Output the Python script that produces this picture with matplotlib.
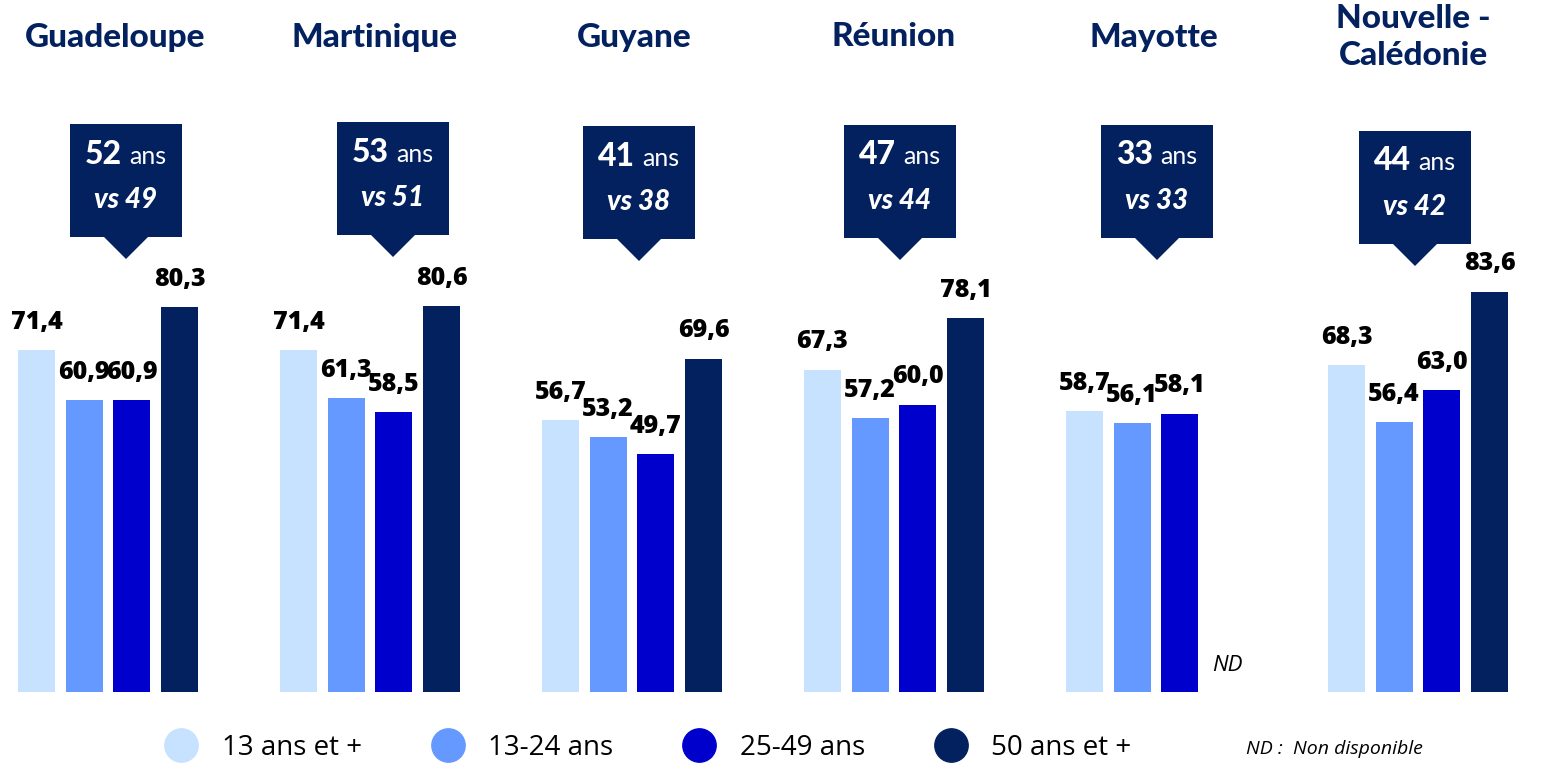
import matplotlib.pyplot as plt
from matplotlib.patches import Polygon
from matplotlib.lines import Line2D

# donnees
territoires = ["Guadeloupe", "Martinique", "Guyane", "Réunion", "Mayotte", "Nouvelle -\nCalédonie"]
tranches = ["13 ans et +", "13-24 ans", "25-49 ans", "50 ans et +"]
v_13plus = [71.4, 71.4, 56.7, 67.3, 58.7, 68.3]
v_13_24 = [60.9, 61.3, 53.2, 57.2, 56.1, 56.4]
v_25_49 = [60.9, 58.5, 49.7, 60.0, 58.1, 63.0]
v_50plus = [80.3, 80.6, 69.6, 78.1, None, 83.6]
age_moyen = [52, 53, 41, 47, 33, 44]
age_vs = [49, 51, 38, 44, 33, 42]

couleurs = ["#C6E2FF", "#6699FF", "#0000CC", "#03215F"]
navy = "#03215F"

plt.rcParams['font.family'] = ['Open Sans', 'DejaVu Sans']

fig = plt.figure(figsize=(15.5, 7.71), dpi=100)
# axe des barres : base a y=692px, 4.79 px par point
ax = fig.add_axes([0, 79 / 771, 1, 692 / 771])
ax.set_xlim(-108 / 262, (1550 - 108) / 262)
ax.set_ylim(0, 692 / 4.79)
ax.axis("off")

pas = 47.7 / 262
larg = 37 / 262
series = [v_13plus, v_13_24, v_25_49, v_50plus]
for k, vals in enumerate(series):
    for g, v in enumerate(vals):
        x = g + (k - 1.5) * pas
        if v is None:
            ax.text(x, 5.6, "ND", ha="center", va="center", fontsize=16, style="italic", color="black")
            continue
        ax.bar(x, v, width=larg, color=couleurs[k])
        ax.annotate(f"{v:.1f}".replace(".", ","), (x, v), xytext=(0, 11), textcoords="offset points",
                    ha="center", va="bottom", fontsize=18, fontweight="heavy", color="black")

# calque en pixels pour titres, bulles et legende
ov = fig.add_axes([0, 0, 1, 1])
ov.set_xlim(0, 1550)
ov.set_ylim(771, 0)
ov.axis("off")

centres_titre = [115, 375, 634, 894, 1154, 1413]
for cx, nom in zip(centres_titre, territoires):
    ov.text(cx, 37, nom, ha="center", va="center", fontsize=24, fontweight="black",
            color=navy, family="Lato", linespacing=1.3)

centres_bulle = [126, 393, 639, 900, 1157, 1415]
hauts_bulle = [124, 122, 126, 125, 125, 131]
for cx, top, a, b in zip(centres_bulle, hauts_bulle, age_moyen, age_vs):
    w, h = 112, 113
    ov.add_patch(Polygon([(cx - w / 2, top), (cx + w / 2, top), (cx + w / 2, top + h),
                          (cx + 22, top + h), (cx, top + h + 22), (cx - 22, top + h),
                          (cx - w / 2, top + h)], closed=True, color=navy, lw=0))
    ov.text(cx - 4, top + 30, str(a), ha="right", va="center", fontsize=23,
            fontweight="black", color="white", family="Lato")
    ov.text(cx + 3, top + 32, "ans", ha="left", va="center", fontsize=18,
            color="white", family="Lato")
    ov.text(cx, top + 76, f"vs {b}", ha="center", va="center", fontsize=20,
            fontweight="black", style="italic", color="white", family="Lato")

handles = [Line2D([], [], ls="", marker="o", markersize=24, color=c) for c in couleurs]
leg = ov.legend(handles, tranches, loc="center left", bbox_to_anchor=(166 / 1550, 1 - 748 / 771),
                ncol=4, frameon=False, fontsize=20, handlelength=1.1, handletextpad=0.9,
                columnspacing=2.55, borderpad=0, borderaxespad=0)
ov.text(1334, 749, "ND :  Non disponible", ha="center", va="center", fontsize=14,
        style="italic", color="black")

fig.savefig("out.png", dpi=100)
